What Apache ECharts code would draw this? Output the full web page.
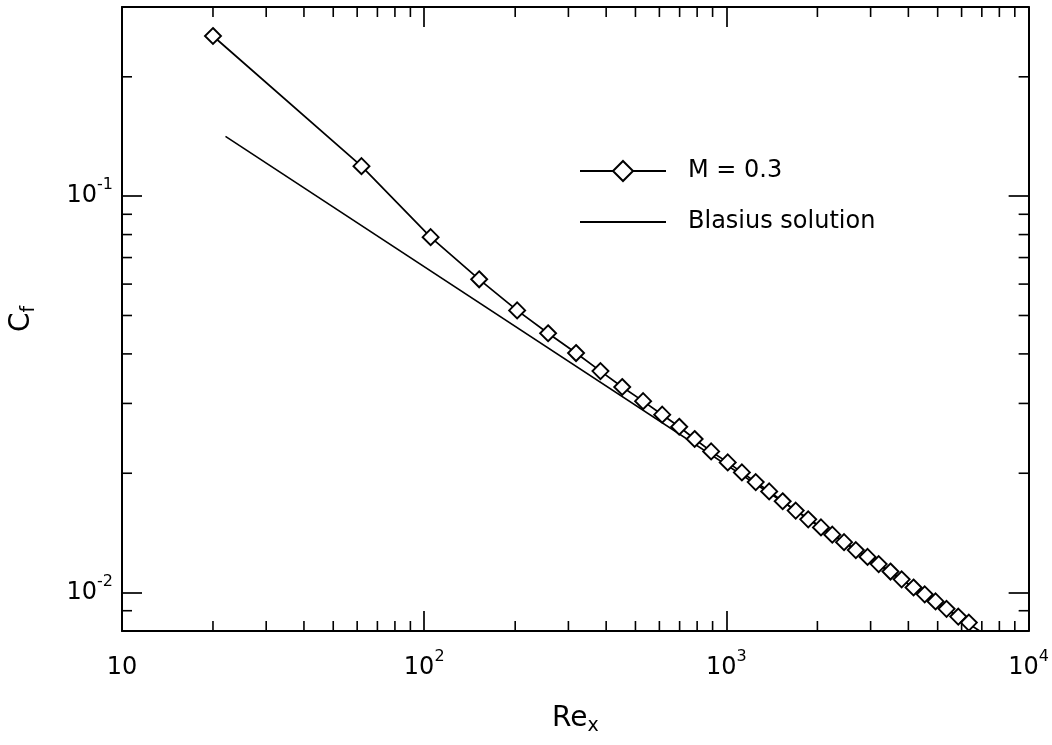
<!DOCTYPE html>
<html>
<head>
<meta charset="utf-8">
<title>Skin friction coefficient</title>
<script src="https://cdn.jsdelivr.net/npm/echarts@6/dist/echarts.min.js"></script>
<style>
  html, body { margin: 0; padding: 0; background: #fff; }
  #chart { width: 1052px; height: 745px; }
</style>
</head>
<body>
<div id="chart"></div>
<script>
// Local Reynolds number of each computed station
const reX = [20, 62, 105, 152, 203, 257, 318, 383, 452, 530, 613, 698, 785, 890,
             1010, 1125, 1250, 1385, 1535, 1695, 1865, 2055, 2240, 2450, 2680,
             2930, 3190, 3490, 3800, 4160, 4530, 4920, 5350, 5850, 6340];
// Skin friction coefficient, M = 0.3
const cfM03 = [0.2535, 0.119, 0.0788, 0.0617, 0.0515, 0.0451, 0.0402, 0.0362,
               0.0330, 0.0304, 0.0281, 0.0262, 0.0244, 0.0227, 0.0213, 0.0201,
               0.0190, 0.0180, 0.0170, 0.0161, 0.0153, 0.0146, 0.0140, 0.0134,
               0.0128, 0.0123, 0.0118, 0.0113, 0.0108, 0.0103, 0.0099, 0.0095,
               0.0091, 0.0087, 0.0084];
// Blasius solution end points (straight line on log-log axes)
const blasiusRe = [22, 6890];
const blasiusCf = [0.1415, 0.0080];

// Axis ranges
const xRange = [10, 10000];
const yRange = [0.008, 0.3];
// Minor tick positions
const xMinorTicks = [20, 30, 40, 50, 60, 70, 80, 90,
                     200, 300, 400, 500, 600, 700, 800, 900,
                     2000, 3000, 4000, 5000, 6000, 7000, 8000, 9000];
const yMinorTicks = [0.009, 0.02, 0.03, 0.04, 0.05, 0.06, 0.07, 0.08, 0.09, 0.2];

const FONT = 'DejaVu Sans';
const INK = '#000';

function powLabel(v) {
  const e = Math.round(Math.log10(v));
  return e === 1 ? '{b|10}' : '{b|10}{sup|' + e + '}';
}
const labelRich = {
  b: { fontFamily: FONT, fontSize: 24, color: INK, lineHeight: 38 },
  sup: { fontFamily: FONT, fontSize: 16, color: INK, lineHeight: 16, verticalAlign: 'top' }
};

function axisBase(range, position, showLabels) {
  return {
    type: 'log',
    logBase: 10,
    min: range[0],
    max: range[1],
    position: position,
    axisLine: { show: true, onZero: false, lineStyle: { color: INK, width: 2 } },
    axisTick: { show: true, inside: true, length: 20, lineStyle: { color: INK, width: 1.7 } },
    splitLine: { show: false },
    minorTick: { show: false },
    axisLabel: showLabels ? {
      show: true, margin: 18, color: INK, fontFamily: FONT, fontSize: 24,
      formatter: powLabel, rich: labelRich
    } : { show: false }
  };
}

const nameStyle = {
  fontFamily: FONT, fontSize: 28, color: INK,
  rich: {
    b: { fontFamily: FONT, fontSize: 28, color: INK, lineHeight: 34 },
    sub: { fontFamily: FONT, fontSize: 19, color: INK, lineHeight: 16, verticalAlign: 'bottom' }
  }
};

const xBottom = axisBase(xRange, 'bottom', true);
xBottom.axisLabel.showMinLabel = true;
xBottom.axisLabel.showMaxLabel = true;
xBottom.name = '{b|Re}{sub|x}';
xBottom.nameLocation = 'middle';
xBottom.nameGap = 71;
xBottom.nameTextStyle = nameStyle;
const xTop = axisBase(xRange, 'top', false);

const yLeft = axisBase(yRange, 'left', true);
yLeft.axisLabel.margin = 9;
yLeft.axisLabel.showMinLabel = false;
yLeft.axisLabel.showMaxLabel = false;
yLeft.name = '{b|C}{sub|f}';
yLeft.nameLocation = 'middle';
yLeft.nameRotate = 90;
yLeft.nameGap = 83;
yLeft.nameTextStyle = nameStyle;
const yRight = axisBase(yRange, 'right', false);

const TICK_LEN = 10;
function tickLine(x1, y1, x2, y2) {
  return { type: 'line', shape: { x1: x1, y1: y1, x2: x2, y2: y2 },
           style: { stroke: INK, lineWidth: 1.6 } };
}
// Minor ticks on both horizontal edges of the frame
function renderXMinor(params, api) {
  const cs = params.coordSys;
  const p = api.coord([api.value(0), api.value(1)]);
  const bottom = cs.y + cs.height;
  return { type: 'group', children: [
    tickLine(p[0], bottom, p[0], bottom - TICK_LEN),
    tickLine(p[0], cs.y, p[0], cs.y + TICK_LEN)
  ] };
}
// Minor ticks on both vertical edges of the frame
function renderYMinor(params, api) {
  const cs = params.coordSys;
  const p = api.coord([api.value(0), api.value(1)]);
  const right = cs.x + cs.width;
  return { type: 'group', children: [
    tickLine(cs.x, p[1], cs.x + TICK_LEN, p[1]),
    tickLine(right, p[1], right - TICK_LEN, p[1])
  ] };
}

const chart = echarts.init(document.getElementById('chart'), null, { renderer: 'canvas' });
chart.setOption({
  animation: false,
  backgroundColor: '#fff',
  textStyle: { fontFamily: FONT },
  grid: { left: 121, right: 21, top: 7, bottom: 114, containLabel: false },
  xAxis: [xBottom, xTop],
  yAxis: [yLeft, yRight],
  legend: {
    data: [
      { name: 'M = 0.3' },
      { name: 'Blasius solution', itemStyle: { opacity: 0 } }
    ],
    orient: 'vertical',
    left: 574,
    top: 154,
    itemWidth: 86,
    itemHeight: 25,
    itemGap: 27,
    textStyle: { fontFamily: FONT, fontSize: 24, color: INK, padding: [0, 0, 0, 17] }
  },
  series: [
    {
      name: 'Blasius solution',
      type: 'line',
      xAxisIndex: 0, yAxisIndex: 0,
      symbol: 'none',
      lineStyle: { color: INK, width: 1.6 },
      itemStyle: { color: INK },
      data: blasiusRe.map((r, i) => [r, blasiusCf[i]]),
      z: 2
    },
    {
      name: 'M = 0.3',
      type: 'line',
      xAxisIndex: 0, yAxisIndex: 0,
      symbol: 'diamond',
      symbolSize: 16,
      showAllSymbol: true,
      lineStyle: { color: INK, width: 1.7 },
      itemStyle: { color: '#fff', borderColor: INK, borderWidth: 1.9 },
      data: reX.map((r, i) => [r, cfM03[i]]),
      z: 3
    },
    {
      type: 'custom',
      xAxisIndex: 0, yAxisIndex: 0,
      renderItem: renderXMinor,
      clip: false,
      silent: true,
      data: xMinorTicks.map(v => [v, 0.1]),
      z: 4
    },
    {
      type: 'custom',
      xAxisIndex: 0, yAxisIndex: 0,
      renderItem: renderYMinor,
      clip: false,
      silent: true,
      data: yMinorTicks.map(v => [100, v]),
      z: 4
    }
  ]
});
</script>
</body>
</html>
